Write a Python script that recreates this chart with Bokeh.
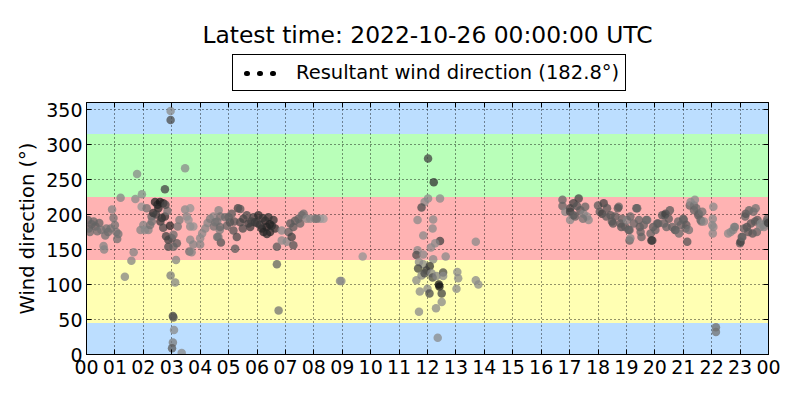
from bokeh.plotting import figure
from bokeh.layouts import column
from bokeh.models import (BoxAnnotation, LinearAxis, FixedTicker, Legend, LegendItem,
                          Label, ColumnDataSource, LinearColorMapper, Range1d)
from bokeh.embed import file_html
from bokeh.resources import INLINE

title_text = "Latest time: 2022-10-26 00:00:00 UTC"
legend_text = "Resultant wind direction (182.8°)"
y_label = "Wind direction (°)"

hour_ticks = list(range(25))
hour_labels = ["00", "01", "02", "03", "04", "05", "06", "07", "08", "09", "10", "11",
               "12", "13", "14", "15", "16", "17", "18", "19", "20", "21", "22", "23", "00"]
dir_ticks = [0, 50, 100, 150, 200, 250, 300, 350]

band_low = [0, 45, 135, 225, 315]
band_high = [45, 135, 225, 315, 360]
band_colors = ["#bcdeff", "#ffffb3", "#ffb3b3", "#b9ffb9", "#bcdeff"]

hours = [
    0.05, 0.08, 0.12, 0.18, 0.25, 0.32, 0.38, 0.45, 0.52, 0.6, 0.62, 0.66, 0.7, 0.76, 0.85, 0.9,
    0.95, 1.0, 1.05, 1.08, 1.12, 1.2, 1.35, 1.58, 1.66, 1.72, 1.78, 1.95, 1.9, 1.94,
    2.12, 2.0, 2.06, 2.18, 2.24, 2.29, 2.35, 2.41, 2.5, 2.59, 2.7, 2.53, 2.45, 2.65, 2.76, 2.6,
    2.7, 2.94, 2.88, 2.88, 3.0, 3.18, 2.8, 3.06, 3.06, 3.21, 3.27, 2.76, 2.96, 2.96, 2.96, 3.12,
    3.04, 3.06, 3.08, 3.04, 3.01, 3.35, 3.15, 2.85, 2.78, 2.3,
    3.47, 3.47, 3.65, 3.53, 3.65, 3.59, 3.76, 3.65, 3.76, 3.62, 3.7, 4.0, 4.0, 4.07, 4.18, 4.26,
    4.35, 4.47, 4.48, 4.6, 4.6, 4.65, 4.71, 4.69, 4.73, 4.53, 4.7, 4.64, 4.88, 4.94, 5.05, 5.11,
    5.17, 5.23, 5.29, 5.33, 5.41, 5.41, 5.52, 5.64, 5.7, 5.76, 5.88, 5.93, 6.05, 6.17, 6.23, 6.29,
    6.34, 6.4, 6.46, 6.52, 6.58, 6.64, 6.1, 6.35, 6.7, 6.7, 6.76, 6.87, 6.87, 7.05, 7.11, 7.17,
    7.22, 7.28, 7.28, 7.34, 7.46, 7.52, 7.58, 7.64, 7.75, 7.87, 8.04, 8.22, 8.34, 8.1, 8.92, 8.97,
    9.72, 5.0, 5.2, 5.5, 5.8, 6.0, 6.2, 6.45,
    12.02, 12.22, 12.02, 12.44, 11.9, 11.79, 11.65, 12.2, 12.18, 11.85, 12.44, 12.27, 12.12, 11.65,
    11.61, 11.85, 12.2, 12.64, 11.7, 11.85, 12.08, 11.96, 11.67, 11.79, 11.9, 12.14, 12.18, 12.32,
    12.55, 12.55, 11.61, 12.4, 12.42, 12.0, 12.07, 11.73, 12.5, 12.5, 12.3, 11.7, 12.36, 13.05,
    13.08, 13.02, 13.7, 13.7, 13.79,
    16.75, 16.75, 16.85, 17.02, 17.02, 17.14, 17.32, 17.26, 17.38, 17.49, 17.55, 17.61, 17.67, 17.02,
    17.2, 17.14, 17.47, 18.0, 18.06, 18.14, 18.2, 18.32, 18.44, 18.29, 18.49, 18.53, 18.61, 18.73,
    18.7, 18.79, 18.85, 18.82, 18.96, 19.02, 19.08, 19.11, 19.11, 19.14, 19.14, 19.26, 19.35, 19.38,
    19.44, 19.47, 19.5, 19.53, 19.61, 19.7, 19.73, 19.85, 19.88, 19.91, 19.94, 20.02, 20.08, 20.12,
    20.26, 20.32, 20.35, 20.38, 20.41, 20.49, 20.53, 20.61, 20.71, 20.73, 20.82, 20.85, 20.91, 21.0,
    21.02, 21.08, 21.11, 21.14, 21.2, 21.23, 21.26, 21.38, 21.38, 21.41, 21.46, 21.53, 21.55, 21.61,
    21.64, 21.67, 21.73, 22.02, 22.04, 22.06, 22.06, 22.04, 22.15, 22.15, 22.58, 22.67, 22.76, 22.79,
    22.82, 23.0, 23.02, 23.06, 23.08, 23.14, 23.18, 23.2, 23.24, 23.29, 23.32, 23.38, 23.44, 23.47,
    23.53, 23.55, 23.59, 23.61, 23.71, 23.73, 23.82, 23.85, 23.94, 23.96, 23.99,
]

directions = [
    192, 180, 175, 186, 190, 183, 176, 188, 178, 155, 150, 170, 180, 175, 180, 207,
    195, 185, 175, 165, 172, 224, 111, 134, 146, 222, 258, 229, 178, 211,
    209, 185, 178, 178, 185, 197, 202, 218, 214, 218, 216, 209, 200, 195, 197, 190,
    181, 184, 164, 154, 166, 159, 169, 154, 171, 183, 192, 236, 335, 348, 113, 103,
    55, 53, 35, 17, 9, 2, 135, 205, 214, 190,
    266, 207, 209, 197, 183, 192, 183, 164, 157, 147, 146, 157, 166, 173, 180, 188,
    194, 197, 183, 190, 168, 206, 197, 178, 160, 189, 182, 168, 196, 184, 189, 201,
    177, 151, 168, 209, 189, 208, 194, 199, 187, 182, 196, 189, 199, 180, 175, 191,
    182, 196, 175, 184, 192, 180, 185, 172, 154, 129, 63, 177, 163, 161, 175, 187,
    168, 156, 182, 191, 194, 187, 199, 201, 194, 194, 194, 194, 194, 194, 105, 105,
    140, 196, 190, 180, 190, 188, 195, 186,
    280, 246, 223, 223, 218, 210, 192, 193, 180, 170, 162, 159, 153, 149,
    142, 143, 136, 140, 132, 129, 126, 120, 123, 113, 116, 116, 110, 112,
    117, 112, 106, 100, 97, 94, 87, 90, 87, 75, 66, 61, 24, 118,
    109, 94, 161, 106, 100,
    221, 212, 204, 209, 204, 216, 223, 212, 206, 201, 211, 197, 192, 192,
    197, 199, 194, 213, 204, 201, 216, 209, 199, 197, 190, 187, 197, 211,
    209, 187, 194, 182, 182, 192, 178, 163, 178, 166, 197, 187, 209, 209,
    192, 182, 175, 168, 185, 192, 192, 173, 163, 163, 182, 178, 187, 187,
    199, 187, 199, 201, 182, 194, 206, 182, 178, 178, 190, 173, 185, 194,
    192, 180, 185, 161, 178, 213, 218, 213, 206, 221, 209, 199, 201, 192,
    190, 204, 190, 185, 194, 211, 182, 173, 39, 32, 173, 175, 178, 182,
    182, 159, 161, 168, 168, 180, 197, 201, 182, 175, 206, 187, 173, 204,
    190, 209, 175, 192, 182, 187, 185, 182, 190, 194, 188,
]

shades = [
    .5, .5, .55, .5, .5, .5, .55, .5, .6, .7, .7, .6, .6, .55, .6, .7,
    .6, .6, .6, .6, .6, .7, .7, .7, .7, .75, .75, .75, .7, .8,
    .6, .7, .75, .7, .6, .5, .2, .1, .15, .05, .1, .15, .3, .2, .2, .25,
    .35, .15, .3, .35, .4, .45, .3, .5, .55, .6, .65, .3, .35, .75, .65, .7,
    .3, .4, .75, .65, .45, .75, .7, .6, .35, .6,
    .75, .75, .8, .75, .75, .8, .8, .75, .7, .55, .7, .7, .75, .75, .7, .7,
    .65, .7, .6, .65, .6, .7, .6, .65, .4, .6, .55, .6, .55, .5, .4, .45,
    .4, .45, .35, .3, .35, .4, .3, .35, .3, .25, .3, .2, .15, .15, .1, .15,
    .1, .2, .15, .15, .2, .2, .2, .15, .45, .5, .6, .75, .75, .75, .5, .45,
    .3, .4, .45, .45, .5, .5, .55, .55, .75, .75, .7, .8, .85, .6, .7, .75,
    .8, .5, .4, .35, .3, .25, .2, .1,
    .3, .2, .75, .75, .75, .35, .75, .75, .75, .75, .3, .75, .75, .75,
    .35, .75, .75, .75, .75, .75, .2, .25, .3, .7, .35, .7, .35, .7,
    .35, .75, .75, 0.0, 0.0, .75, .35, .75, .3, .75, .75, .75, .75, .75,
    .75, .75, .75, .75, .75,
    .5, .5, .7, .35, .3, .3, .3, .4, .45, .7, .5, .75, .75, .75,
    .5, .45, .6, .45, .45, .3, .3, .4, .4, .45, .45, .4, .45, .5,
    .4, .45, .5, .4, .45, .7, .45, .5, .5, .7, .5, .5, .45, .5,
    .5, .45, .5, .5, .5, .5, .55, .5, .2, .25, .45, .5, .5, .45,
    .45, .5, .45, .3, .5, .45, .45, .5, .45, .5, .5, .55, .5, .45,
    .5, .5, .45, .4, .6, .5, .75, .6, .5, .75, .55, .45, .5, .5,
    .55, .6, .75, .75, .75, .75, .75, .75, .55, .6, .75, .75, .7, .75,
    .65, .45, .3, .45, .5, .5, .5, .4, .4, .45, .5, .4, .4, .55,
    .45, .6, .5, .45, .65, .75, .7, .7, .6, .5, .3,
]

FONT = "DejaVu Sans"
NAN = float("nan")

# ---------------- header figure: title + legend ----------------
head = figure(width=800, height=98, output_backend="svg", toolbar_location=None,
              title=None, title_location=None, x_axis_location=None, y_axis_location=None,
              min_border=0, min_border_left=0, min_border_right=0,
              min_border_top=0, min_border_bottom=0,
              x_range=Range1d(0, 1), y_range=Range1d(0, 1))
head.outline_line_color = None
head.grid.visible = False
head.background_fill_color = "white"
head.border_fill_color = "white"

# the header frame is aligned with the main plot frame (starts 86px from the left)
head.add_layout(Label(x=341, y=64, x_units="screen", y_units="screen", text=title_text,
                      text_align="center", text_baseline="middle",
                      text_font=FONT, text_font_size="23.4px", text_color="black"))

# legend sample: a round-capped dotted line gives the "• • •" marker
dots = head.line(x=[NAN], y=[NAN], line_color="black", line_width=5, line_dash="1 12",
                 line_cap="round", line_dash_offset=6)
legend = Legend(items=[LegendItem(label=legend_text, renderers=[dots])],
                location=(146, 7), orientation="vertical",
                border_line_color="black", border_line_width=1, border_line_alpha=1,
                background_fill_color="white", background_fill_alpha=1,
                padding=6, margin=0, spacing=0,
                glyph_width=38, glyph_height=20, label_standoff=19, label_height=20,
                label_text_font=FONT, label_text_font_size="19.5px", label_text_color="black")
head.add_layout(legend, "center")

# ---------------- main figure ----------------
p = figure(width=800, height=302, output_backend="svg", toolbar_location=None,
           title=None, title_location=None,
           x_range=Range1d(0, 24), y_range=Range1d(0, 360),
           min_border_left=86, min_border_right=32, min_border_top=4, min_border_bottom=46,
           background_fill_color="white", border_fill_color="white")
p.outline_line_color = "black"
p.outline_line_width = 1

for lo, hi, col in zip(band_low, band_high, band_colors):
    p.add_layout(BoxAnnotation(bottom=lo, top=hi, fill_color=col, fill_alpha=1.0,
                               line_color=None, level="image"))

def style_axis(ax, show_labels):
    ax.major_tick_in = 5
    ax.major_tick_out = 0
    ax.minor_tick_in = 0
    ax.minor_tick_out = 0
    ax.axis_line_color = "black"
    ax.major_tick_line_color = "black"
    ax.major_label_text_font = FONT
    ax.major_label_text_font_size = "19px"
    ax.major_label_text_color = "black"
    if not show_labels:
        ax.major_label_text_alpha = 0
        ax.major_label_text_font_size = "1px"
        ax.major_label_standoff = 0

p.xaxis.ticker = FixedTicker(ticks=hour_ticks)
p.xaxis.major_label_overrides = {t: lab for t, lab in zip(hour_ticks, hour_labels)}
p.xaxis.major_label_standoff = 5
style_axis(p.xaxis[0], True)

p.yaxis.ticker = FixedTicker(ticks=dir_ticks)
p.yaxis.major_label_standoff = 4
p.yaxis.axis_label = y_label
p.yaxis.axis_label_text_font = FONT
p.yaxis.axis_label_text_font_size = "19.5px"
p.yaxis.axis_label_text_font_style = "normal"
p.yaxis.axis_label_text_color = "black"
p.yaxis.axis_label_standoff = 4
style_axis(p.yaxis[0], True)

right_axis = LinearAxis(ticker=FixedTicker(ticks=dir_ticks))
style_axis(right_axis, False)
p.add_layout(right_axis, "right")

top_axis = LinearAxis(ticker=FixedTicker(ticks=hour_ticks))
style_axis(top_axis, False)
p.add_layout(top_axis, "above")

p.xgrid.ticker = FixedTicker(ticks=hour_ticks)
p.ygrid.ticker = FixedTicker(ticks=dir_ticks)
p.grid.grid_line_color = "black"
p.grid.grid_line_dash = "1 3"
p.grid.grid_line_width = 1
p.grid.grid_line_alpha = 0.85

grays = ["#%02x%02x%02x" % (g, g, g) for g in range(0x15, 0xb4, 3)]
mapper = LinearColorMapper(palette=grays, low=0, high=1)
src = ColumnDataSource(dict(hour=hours, direction=directions, shade=shades))
p.scatter(x="hour", y="direction", source=src, size=8.5,
          fill_color={"field": "shade", "transform": mapper}, line_color=None, fill_alpha=0.75)

layout = column(head, p, spacing=0)
open("out.html", "w").write(file_html(layout, INLINE))
